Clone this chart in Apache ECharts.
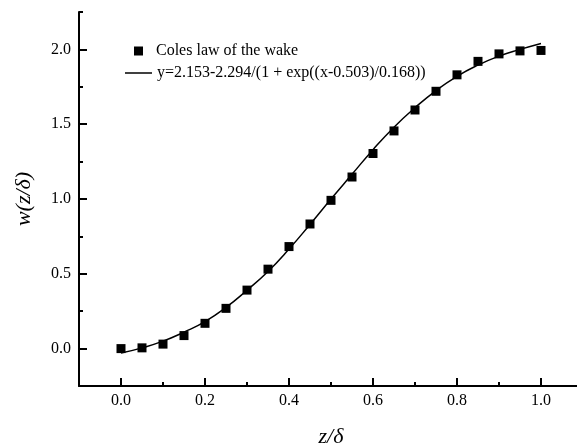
<!DOCTYPE html>
<html>
<head>
<meta charset="utf-8">
<script src="https://cdn.jsdelivr.net/npm/echarts@6/dist/echarts.min.js"></script>
<style>html,body{margin:0;padding:0;background:#fff}#c{width:577px;height:445px}</style>
</head>
<body>
<div id="c"></div>
<script>
// Data
var xPoints = [0, 0.05, 0.1, 0.15, 0.2, 0.25, 0.3, 0.35, 0.4, 0.45, 0.5, 0.55, 0.6, 0.65, 0.7, 0.75, 0.8, 0.85, 0.9, 0.95, 1.0];
var wakeValues = [0.0, 0.005, 0.03, 0.087, 0.169, 0.269, 0.391, 0.531, 0.682, 0.833, 0.991, 1.147, 1.304, 1.455, 1.595, 1.72, 1.83, 1.92, 1.97, 1.99, 1.993];
var fitValues = [-0.03, 0.005, 0.05, 0.11, 0.18, 0.275, 0.39, 0.515, 0.665, 0.83, 1.0, 1.165, 1.33, 1.48, 1.61, 1.725, 1.82, 1.895, 1.955, 2.0, 2.04];
var xMajorTicks = [0, 0.2, 0.4, 0.6, 0.8, 1.0];
var xMinorTicks = [0.1, 0.3, 0.5, 0.7, 0.9];
var yMajorTicks = [0, 0.5, 1.0, 1.5, 2.0];
var yMinorTicks = [0.25, 0.75, 1.25, 1.75, 2.25];
var seriesNames = ['Coles law of the wake', 'y=2.153-2.294/(1 + exp((x-0.503)/0.168))'];

var FONT = 'Liberation Serif';
function pairs(xs, ys) { return xs.map(function (x, i) { return [x, ys[i]]; }); }
function fmt(v) { return v.toFixed(1); }

var chart = echarts.init(document.getElementById('c'), null, { renderer: 'canvas' });
chart.setOption({
  animation: false,
  backgroundColor: '#fff',
  grid: { left: 79, right: -6, top: 12, bottom: 59, containLabel: false, outerBoundsMode: 'none' },
  legend: [
    {
      data: [{ name: seriesNames[0], icon: 'rect' }],
      left: 129, top: 38, orient: 'vertical',
      itemWidth: 9, itemHeight: 9,
      itemStyle: { color: '#000', opacity: 1 },
      textStyle: { fontFamily: FONT, fontSize: 16, color: '#000', padding: [0, 0, 0, 8] }
    },
    {
      data: [{ name: seriesNames[1], icon: 'path://M0,0 L27,0 L27,1.5 L0,1.5 Z' }],
      left: 120, top: 60, orient: 'vertical',
      itemWidth: 27, itemHeight: 1.5,
      itemStyle: { color: '#000', opacity: 1 },
      textStyle: { fontFamily: FONT, fontSize: 16, color: '#000', padding: [0, 0, 0, 0] }
    }
  ],
  xAxis: [
    {
      type: 'value', min: -0.1, max: 1.1, position: 'bottom',
      axisLine: { show: true, onZero: false, lineStyle: { color: '#000', width: 2 } },
      axisTick: { show: true, inside: true, length: 8, customValues: xMajorTicks, lineStyle: { color: '#000', width: 2 } },
      axisLabel: { show: true, customValues: xMajorTicks, formatter: fmt, margin: 7, fontFamily: FONT, fontSize: 16, color: '#000' },
      splitLine: { show: false },
      name: 'z/δ', nameLocation: 'middle', nameGap: 40,
      nameTextStyle: { fontFamily: FONT, fontStyle: 'italic', fontSize: 22, color: '#000' }
    },
    {
      type: 'value', min: -0.1, max: 1.1, position: 'bottom',
      axisLine: { show: false, onZero: false },
      axisTick: { show: true, inside: true, length: 4, customValues: xMinorTicks, lineStyle: { color: '#000', width: 2 } },
      axisLabel: { show: false },
      splitLine: { show: false }
    }
  ],
  yAxis: [
    {
      type: 'value', min: -0.25, max: 2.25, position: 'left',
      axisLine: { show: true, onZero: false, lineStyle: { color: '#000', width: 2 } },
      axisTick: { show: true, inside: true, length: 8, customValues: yMajorTicks, lineStyle: { color: '#000', width: 2 } },
      axisLabel: { show: true, customValues: yMajorTicks, formatter: fmt, margin: 8, fontFamily: FONT, fontSize: 16, color: '#000' },
      splitLine: { show: false },
      name: 'w(z/δ)', nameLocation: 'middle', nameGap: 44, nameRotate: 90,
      nameTextStyle: { fontFamily: FONT, fontStyle: 'italic', fontSize: 22, color: '#000' }
    },
    {
      type: 'value', min: -0.25, max: 2.25, position: 'left',
      axisLine: { show: false, onZero: false },
      axisTick: { show: true, inside: true, length: 4, customValues: yMinorTicks, lineStyle: { color: '#000', width: 2 } },
      axisLabel: { show: false },
      splitLine: { show: false }
    }
  ],
  series: [
    {
      name: seriesNames[0], type: 'scatter', xAxisIndex: 0, yAxisIndex: 0,
      symbol: 'rect', symbolSize: 9,
      itemStyle: { color: '#000', opacity: 1 },
      data: pairs(xPoints, wakeValues), z: 3
    },
    {
      name: seriesNames[1], type: 'line', xAxisIndex: 0, yAxisIndex: 0,
      smooth: true, symbol: 'none', showSymbol: false,
      lineStyle: { color: '#000', width: 1.5 },
      itemStyle: { color: '#000' },
      data: pairs(xPoints, fitValues), z: 2
    }
  ]
});
</script>
</body>
</html>
